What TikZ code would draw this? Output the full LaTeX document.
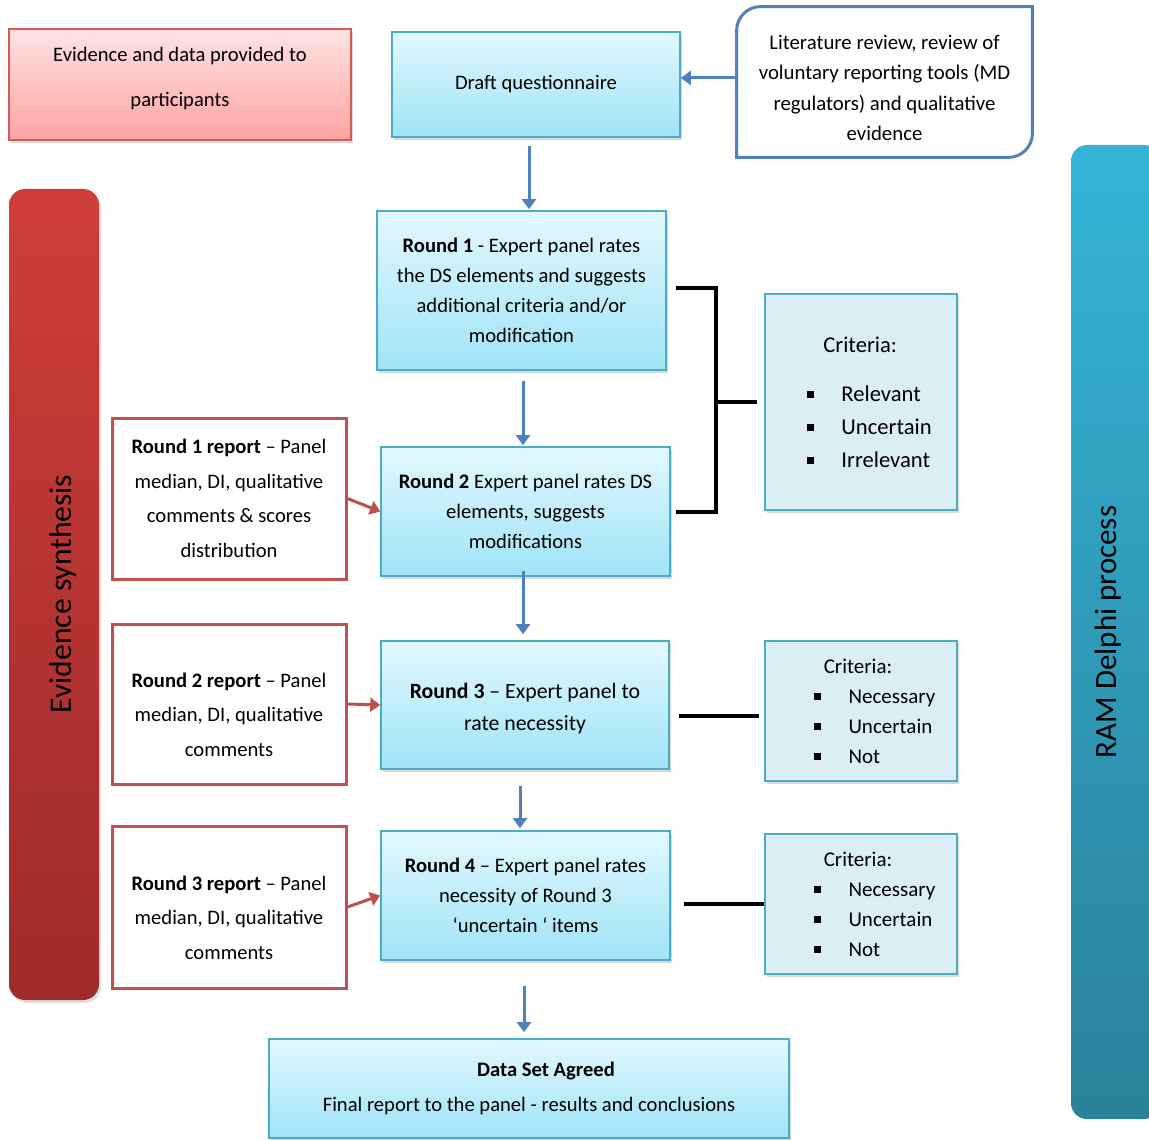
\documentclass[tikz,border=0pt]{standalone}
\usepackage{fontspec}
\setmainfont{Carlito}
\usetikzlibrary{positioning,arrows.meta,shadows}

\definecolor{flowblue}{HTML}{4F81BD}
\definecolor{boxline}{HTML}{4BACC6}
\definecolor{boxtop}{HTML}{E3F8FE}
\definecolor{boxbot}{HTML}{9FE4F8}
\definecolor{redline}{HTML}{C0504D}
\definecolor{pinkline}{HTML}{D25A57}
\definecolor{pinktop}{HTML}{FFE3E3}
\definecolor{pinkbot}{HTML}{FFA3A3}
\definecolor{critfill}{HTML}{DAEEF3}
\definecolor{bartop}{HTML}{CE3D39}
\definecolor{barbot}{HTML}{9E2B2B}
\definecolor{sidetop}{HTML}{35B4D8}
\definecolor{sidebot}{HTML}{2A8199}

\newcommand{\crititem}[1][11pt]{\rule[1.5pt]{3.5pt}{3.5pt}\hspace{#1}}

\begin{document}
\begin{tikzpicture}[x=0.5pt, y=-0.5pt, font=\fontsize{10.3}{15}\selectfont,
stepbox/.style={rectangle, draw=boxline, thick, top color=boxtop, bottom color=boxbot, align=center, drop shadow={opacity=0.3, shadow xshift=1pt, shadow yshift=-1.5pt}},
reportbox/.style={rectangle, draw=redline, line width=1.5pt, fill=white, align=center, minimum width=117pt, font=\fontsize{10.3}{17.25}\selectfont},
critbox/.style={rectangle, draw=boxline, thick, fill=critfill, align=left, minimum width=96pt, minimum height=70pt, drop shadow={opacity=0.3, shadow xshift=1pt, shadow yshift=-1.5pt}},
flow/.style={-{Triangle[length=5pt,width=7pt]}, flowblue, line width=1.5pt},
redflow/.style={-{Triangle[length=5pt,width=7pt]}, redline, line width=1.5pt},
link/.style={black, line width=2pt},
]
\useasboundingbox (0,0) rectangle (1149,1139);

%Side bars
\node[rectangle, rounded corners=8pt, top color=bartop, bottom color=barbot, minimum width=45pt, minimum height=405.5pt, drop shadow={opacity=0.25, shadow xshift=1pt, shadow yshift=-1.5pt}] (synth) at (54,594.5) {};
\node[rotate=90, font=\fontsize{15.8}{18}\selectfont] (synthtext) at (63,594) {Evidence synthesis};
\node[rectangle, rounded corners=8pt, top color=sidetop, bottom color=sidebot, minimum width=44.5pt, minimum height=487pt] (delphi) at (1115.5,632) {};
\node[rotate=90, font=\fontsize{15.5}{18}\selectfont] (delphitext) at (1108,632) {RAM Delphi process};

%Top row
\node[rectangle, draw=pinkline, thick, top color=pinktop, bottom color=pinkbot, align=center, minimum width=171pt, minimum height=55.5pt, font=\fontsize{10.3}{22.5}\selectfont, drop shadow={opacity=0.3, shadow xshift=1pt, shadow yshift=-1.5pt}] (evid) at (180,84.5) {Evidence and data provided to\\participants\rule[-8pt]{0pt}{8pt}};
\node[stepbox, minimum width=144pt, minimum height=52.5pt] (draft) at (536,84.5) {Draft questionnaire};
\node[align=center, minimum width=147.5pt, minimum height=75pt, font=\fontsize{10.4}{15.25}\selectfont] (lit) at (884.5,82) {\rule{0pt}{13pt}Literature review, review of\\voluntary reporting tools (MD\\regulators) and qualitative\\evidence};
\draw[flowblue, line width=1.5pt] (lit.north) {[rounded corners=12pt] -- (lit.north west) -- (lit.west)} -- (lit.south west) -- (lit.south) {[rounded corners=12pt] -- (lit.south east) -- (lit.east)} -- (lit.north east) -- cycle;

%Rounds
\node[stepbox, minimum width=144.5pt, minimum height=79.5pt] (r1) at (521.5,290.5) {{\bfseries Round 1} - Expert panel rates\\the DS elements and suggests\\additional criteria and/or\\modification};
\node[stepbox, minimum width=144.5pt, minimum height=64.5pt] (r2) at (525.5,511.5) {{\bfseries Round 2} Expert panel rates DS\\elements, suggests\\modifications};
\node[stepbox, minimum width=144pt, minimum height=64pt, font=\fontsize{10.9}{16}\selectfont] (r3) at (525,705) {\rule{0pt}{11pt}{\bfseries Round 3} – Expert panel to\\rate necessity};
\node[stepbox, minimum width=144.5pt, minimum height=64.5pt] (r4) at (525.5,895.5) {{\bfseries Round 4} – Expert panel rates\\necessity of Round 3\\‘uncertain ‘ items};
\node[stepbox, minimum width=260pt, minimum height=49.5pt, font=\fontsize{10.3}{17.5}\selectfont] (final) at (529,1088.5) {\hspace*{17pt}{\bfseries Data Set Agreed}\\Final report to the panel - results and conclusions};

%Reports
\node[reportbox, minimum height=80.5pt] (rep1) at (229,498.5) {{\bfseries Round 1 report} – Panel\\median, DI, qualitative\\comments \& scores\\distribution};
\node[reportbox, minimum height=80pt] (rep2) at (229,704) {\rule{0pt}{18pt}{\bfseries Round 2 report} – Panel\\median, DI, qualitative\\comments};
\node[reportbox, minimum height=81pt] (rep3) at (229,907) {\rule{0pt}{18pt}{\bfseries Round 3 report} – Panel\\median, DI, qualitative\\comments};

%Criteria
\node[critbox, minimum height=108pt, font=\fontsize{11.3}{16.5}\selectfont] (crit1) at (861,402) {\hspace*{16.5pt}Criteria:\\[8pt]\hspace*{8.5pt}\crititem[11pt] Relevant\\\hspace*{8.5pt}\crititem[11pt] Uncertain\\\hspace*{8.5pt}\crititem[11pt] Irrelevant};
\node[critbox, font=\fontsize{10.5}{15}\selectfont] (crit2) at (861,711) {\hspace*{18.5pt}Criteria:\\\hspace*{13.5pt}\crititem[11.5pt] Necessary\\\hspace*{13.5pt}\crititem[11.5pt] Uncertain\\\hspace*{13.5pt}\crititem[11.5pt] Not};
\node[critbox, font=\fontsize{10.5}{15}\selectfont] (crit3) at (861,904) {\hspace*{18.5pt}Criteria:\\\hspace*{13.5pt}\crititem[11.5pt] Necessary\\\hspace*{13.5pt}\crititem[11.5pt] Uncertain\\\hspace*{13.5pt}\crititem[11.5pt] Not};

%Blue arrows
\draw[flow] ([yshift=2pt]lit.west) -- ([yshift=2pt]lit.west -| draft.east);
\draw[flow, shorten <=4pt, shorten >=0.5pt] ([xshift=-3.5pt]draft.south) -- ([xshift=-3.5pt]draft.south |- r1.north);
\draw[flow, shorten <=5pt, shorten >=0.5pt] ([xshift=0.75pt]r1.south) -- ([xshift=0.75pt]r1.south |- r2.north);
\draw[flow, shorten <=-3pt, shorten >=3pt] ([xshift=-1.25pt]r2.south) -- ([xshift=-1.25pt]r2.south |- r3.north);
\draw[flow, shorten <=8pt, shorten >=1pt] ([xshift=-2.5pt]r3.south) -- ([xshift=-2.5pt]r3.south |- r4.north);
\draw[flow, shorten <=12.5pt, shorten >=3pt] ([xshift=-0.75pt]r4.south) -- ([xshift=-0.75pt]r4.south |- final.north);

%Red arrows
\draw[redflow] (rep1.east) -- (r2.west);
\draw[redflow] (rep2.east) -- (r3.west);
\draw[redflow] (rep3.east) -- (r4.west);

%Links to criteria
\draw[link] ([xshift=4.5pt,yshift=1.25pt]r1.east) -- ++(20pt,0) coordinate (brk) -- (brk |- r2.east) -- ([xshift=2.5pt]r2.east);
\draw[link, shorten >=3.5pt] (brk |- crit1.west) -- (crit1.west);
\coordinate (c2in) at ([yshift=-2.5pt]crit2.west);
\draw[link, shorten <=4.5pt, shorten >=2.5pt] (r3.east |- c2in) -- (c2in);
\draw[link, shorten <=6.5pt] (r4.east |- crit3.west) -- (crit3.west);
\end{tikzpicture}
\end{document}
